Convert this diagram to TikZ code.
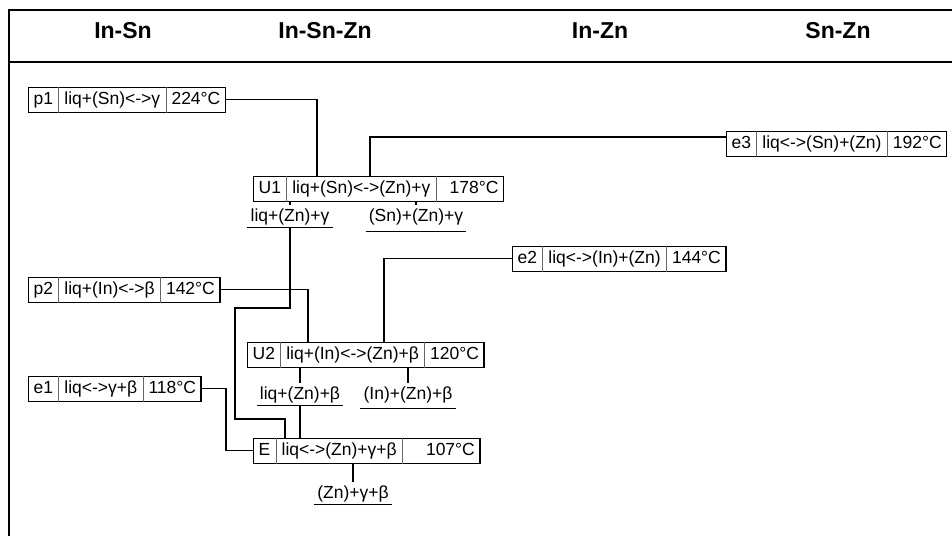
\documentclass[tikz,border=0pt]{standalone}
\usepackage{fontspec}
\setmainfont{Liberation Sans}
\usetikzlibrary{shapes.multipart}
\newcommand\rxfont{\fontsize{17.5}{20}\selectfont}
\newcommand\rs{\rule[-5pt]{0pt}{18.5pt}}
\begin{document}
\begin{tikzpicture}[x=1pt,y=-1pt,
  rxn/.style={draw, line width=1.3pt, rectangle split, rectangle split horizontal,
    rectangle split parts=3, rectangle split draw splits=false,
    inner xsep=5pt, inner ysep=3pt, anchor=north west, font=\rxfont},
  prod/.style={font=\rxfont, anchor=base, inner xsep=3pt, inner ysep=3pt},
  hdr/.style={font=\fontsize{23}{26}\selectfont\bfseries},
  conn/.style={line width=1.1pt},
  ul/.style={line width=1.1pt},
  div/.style={line width=0.6pt, black!60},
  frame/.style={line width=1.6pt}]
\useasboundingbox (0,0) rectangle (952,536);
\clip (0,0) rectangle (952,536);
% frame
\draw[frame] (952,10) -- (9,10) -- (9,536);
\draw[frame] (9,62) -- (952,62);
% headers
\node[hdr] (h1) at (123,31) {In-Sn};
\node[hdr] (h2) at (325,31) {In-Sn-Zn};
\node[hdr] (h3) at (600,31) {In-Zn};
\node[hdr] (h4) at (838,31) {Sn-Zn};
% reaction boxes
\node[rxn] (p1) at (28,87) {p1\rs\nodepart{two}liq+(Sn)<->γ\rs\nodepart{three}224°C\rs};
\node[rxn] (e3) at (726,131) {e3\rs\nodepart{two}liq<->(Sn)+(Zn)\rs\nodepart{three}192°C\rs};
\node[rxn] (U1) at (253,176) {U1\rs\nodepart{two}liq+(Sn)<->(Zn)+γ\rs\nodepart{three}\hspace{8pt}178°C\rs};
\node[rxn] (e2) at (512,246) {e2\rs\nodepart{two}liq<->(In)+(Zn)\rs\nodepart{three}144°C\rs};
\node[rxn] (p2) at (28,277) {p2\rs\nodepart{two}liq+(In)<->β\rs\nodepart{three}142°C\rs};
\node[rxn] (U2) at (247,342) {U2\rs\nodepart{two}liq+(In)<->(Zn)+β\rs\nodepart{three}120°C\rs};
\node[rxn] (e1) at (28,376) {e1\rs\nodepart{two}liq<->γ+β\rs\nodepart{three}118°C\rs};
\node[rxn] (E) at (253,438) {E\rs\nodepart{two}liq<->(Zn)+γ+β\rs\nodepart{three}\hspace{18pt}107°C\rs};
\foreach \n in {p1,e3,U1,e2,p2,U2,e1,E}{
  \draw[div] (\n.one split north) -- (\n.one split south);
  \draw[div] (\n.two split north) -- (\n.two split south);
}
% products
\node[prod] (a1) at (290,221) {liq+(Zn)+γ};
\node[prod] (a2) at (416,221) {(Sn)+(Zn)+γ};
\node[prod] (a3) at (300,399) {liq+(Zn)+β};
\node[prod] (a4) at (408,399) {(In)+(Zn)+β};
\node[prod] (a5) at (353,498) {(Zn)+γ+β};
\draw[ul] (a1.south west) -- (a1.south east);
\draw[ul] ([yshift=-4pt]a2.south west) -- ([yshift=-4pt]a2.south east);
\draw[ul] (a3.south west) -- (a3.south east);
\draw[ul] ([yshift=-3pt]a4.south west) -- ([yshift=-3pt]a4.south east);
\draw[ul] (a5.south west) -- (a5.south east);
% ticks
\draw[conn] (a1.north |- U1.south) -- (a1.north);
\draw[conn] (a2.north |- U1.south) -- (a2.north);
\draw[conn] (a3.north |- U2.south) -- (a3.north);
\draw[conn] (a4.north |- U2.south) -- (a4.north);
\draw[conn] (a5.north |- E.south) -- (a5.north);
% connectors
\draw[conn] (p1.east) -| ([xshift=64pt]U1.north west);
\draw[conn] ([yshift=-6pt]e3.north west) -| ([xshift=117pt]U1.north west);
\draw[conn] (e2.west) -| ([xshift=137pt]U2.north west);
\draw[conn] (p2.east) -| ([xshift=61pt]U2.north west);
\coordinate (b1) at (235,308);
\coordinate (b2) at (285,419);
\draw[conn] (a1.south) |- (b1) |- (b2) -- (b2 |- E.north);
\draw[conn] (a3.south) -- (a3.south |- E.north);
\coordinate (b3) at (226,420);
\draw[conn] (e1.east) -| (b3) |- (E.west);
\end{tikzpicture}
\end{document}
